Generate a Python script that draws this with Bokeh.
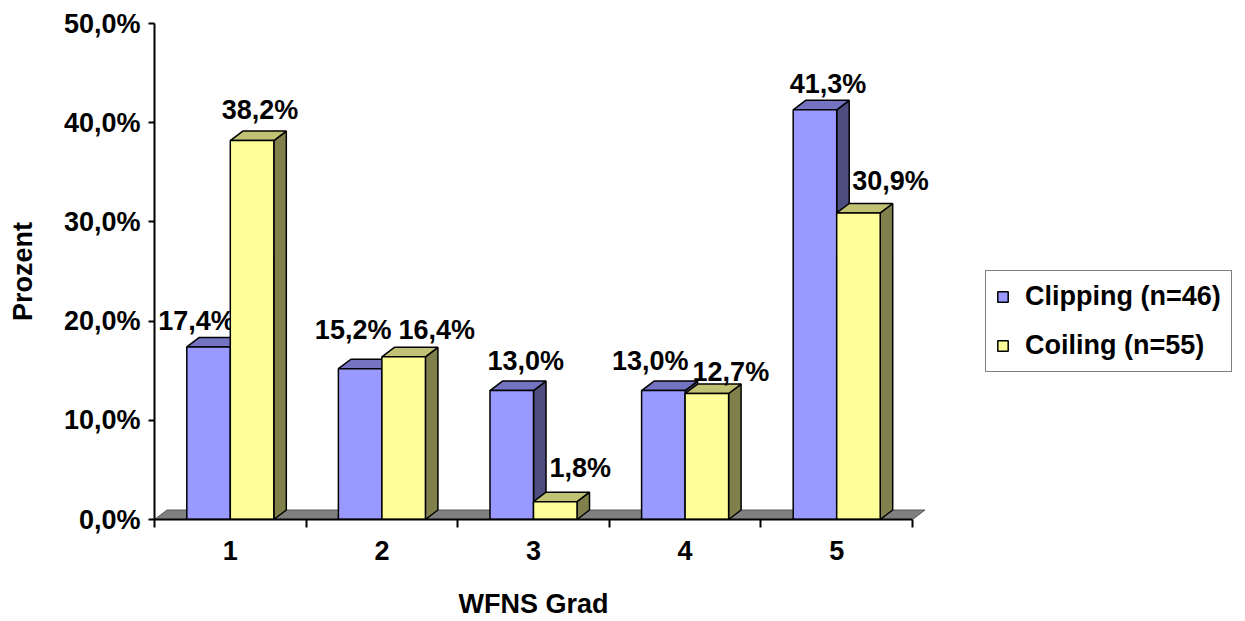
from bokeh.plotting import figure
from bokeh.models import Range1d, FixedTicker, Legend, LegendItem, ColumnDataSource, LinearAxis
from bokeh.core.properties import value
from bokeh.embed import file_html
from bokeh.resources import INLINE

# ---------------- data ----------------
categories = ["1", "2", "3", "4", "5"]
clipping = [17.4, 15.2, 13.0, 13.0, 41.3]
coiling = [38.2, 16.4, 1.8, 12.7, 30.9]
series_names = ["Clipping (n=46)", "Coiling (n=55)"]
y_ticks = [0, 10, 20, 30, 40, 50]
y_tick_labels = ["0,0%", "10,0%", "20,0%", "30,0%", "40,0%", "50,0%"]
x_title = "WFNS Grad"
y_title = "Prozent"

# ---------------- style / layout ----------------
W, H = 1245, 621
LEFT, TOP, BOTTOM, RIGHT = 154, 23, 101, 0
CAT_PX = 151.6
DEPTH_X_PX, DEPTH_Y_PX = 12.5, 9.5
BAR_W = 0.287
FONT = "Liberation Sans"
FS = "27px"
colors = {
    "clip": ("#9999FF", "#7373C2", "#4D4D80"),
    "coil": ("#FFFF99", "#C2C275", "#80804D"),
}
# label nudges (screen px) relative to bar front-top centre
label_dx_clip = [-12, -7, 14, -13, 13]
label_dy_clip = [26, 39, 30, 30, 26]
label_dx_coil = [8, 33, 25, 24, 32]
label_dy_coil = [31, 27, 34, 22, 32]

frame_w = W - LEFT - RIGHT
frame_h = H - TOP - BOTTOM
x_start = 0.5
x_end = x_start + frame_w / CAT_PX
y_start, y_end = 0, 50
px_per_pct = frame_h / (y_end - y_start)
ddx = DEPTH_X_PX / CAT_PX
ddy = DEPTH_Y_PX / px_per_pct

p = figure(width=W, height=H, output_backend="svg", toolbar_location=None,
           x_range=Range1d(x_start, x_end), y_range=Range1d(y_start, y_end),
           min_border_left=LEFT, min_border_top=TOP, min_border_bottom=BOTTOM,
           min_border_right=RIGHT)
p.outline_line_color = None
p.xgrid.visible = False
p.ygrid.visible = False
p.background_fill_color = "white"
p.border_fill_color = "white"

n = len(categories)
pos = [i + 1 for i in range(n)]

# floor
p.patches(xs=[[pos[0] - 0.5, pos[-1] + 0.5, pos[-1] + 0.5 + ddx, pos[0] - 0.5 + ddx]],
          ys=[[0, 0, ddy, ddy]], fill_color="#808080", line_color="#555555", line_width=1)


def draw_series(vals, lefts, cols, dxs, dys):
    front_c, top_c, side_c = cols
    rights = [l + BAR_W for l in lefts]
    side_src = ColumnDataSource(dict(
        xs=[[r, r + ddx, r + ddx, r] for r in rights],
        ys=[[0, ddy, v + ddy, v] for v in vals]))
    top_src = ColumnDataSource(dict(
        xs=[[l, r, r + ddx, l + ddx] for l, r in zip(lefts, rights)],
        ys=[[v, v, v + ddy, v + ddy] for v in vals]))
    front_src = ColumnDataSource(dict(left=lefts, right=rights, top=vals,
                                      bottom=[0] * len(vals)))
    p.patches("xs", "ys", source=side_src, fill_color=side_c, line_color="black", line_width=1.5)
    p.patches("xs", "ys", source=top_src, fill_color=top_c, line_color="black", line_width=1.5)
    fr = p.quad(left="left", right="right", top="top", bottom="bottom", source=front_src,
                fill_color=front_c, line_color="black", line_width=1.5)
    lab_src = ColumnDataSource(dict(
        x=[(l + r) / 2 for l, r in zip(lefts, rights)], y=vals,
        text=[("%.1f%%" % v).replace(".", ",") for v in vals],
        xo=dxs, yo=[-d for d in dys]))
    p.text(x="x", y="y", text="text", x_offset="xo", y_offset="yo", source=lab_src,
           text_font=value(FONT), text_font_size=FS, text_font_style="bold",
           text_color="black", text_align="center", text_baseline="middle")
    return fr


r_clip = draw_series(clipping, [x - BAR_W for x in pos], colors["clip"], label_dx_clip, label_dy_clip)
r_coil = draw_series(coiling, [x for x in pos], colors["coil"], label_dx_coil, label_dy_coil)

# axes
ya = p.yaxis[0]
ya.ticker = FixedTicker(ticks=y_ticks)
ya.major_label_overrides = {t: s for t, s in zip(y_ticks, y_tick_labels)}
ya.bounds = (y_start, y_end)
ya.axis_line_width = 2
ya.major_tick_line_width = 2
ya.major_tick_out = 6
ya.major_tick_in = 0
ya.minor_tick_line_color = None
ya.major_label_standoff = 8
ya.major_label_text_font = FONT
ya.major_label_text_font_size = FS
ya.major_label_text_font_style = "bold"
ya.major_label_text_color = "black"
ya.axis_label = y_title
ya.axis_label_text_font = FONT
ya.axis_label_text_font_size = FS
ya.axis_label_text_font_style = "bold"
ya.axis_label_text_color = "black"
ya.axis_label_standoff = 23

xa = p.xaxis[0]
xa.ticker = FixedTicker(ticks=pos, minor_ticks=[x - 0.5 for x in pos] + [pos[-1] + 0.5])
xa.major_label_overrides = {x: c for x, c in zip(pos, categories)}
xa.bounds = (pos[0] - 0.5, pos[-1] + 0.5)
xa.axis_line_width = 2
xa.major_tick_line_color = None
xa.major_tick_out = 0
xa.major_tick_in = 0
xa.minor_tick_line_color = "black"
xa.minor_tick_line_width = 2
xa.minor_tick_out = 8
xa.minor_tick_in = 0
xa.major_label_standoff = 13
xa.major_label_text_font = FONT
xa.major_label_text_font_size = FS
xa.major_label_text_font_style = "bold"
xa.major_label_text_color = "black"

# x-axis title, centred under the middle category (second, line-less axis)
mid = sum(pos) / n
xt = LinearAxis(ticker=FixedTicker(ticks=[mid]), major_label_overrides={mid: x_title},
                axis_line_color=None, major_tick_line_color=None, minor_tick_line_color=None,
                major_tick_out=0, major_tick_in=0, minor_tick_out=0, minor_tick_in=0,
                major_label_standoff=26, major_label_text_font=FONT,
                major_label_text_font_size=FS, major_label_text_font_style="bold",
                major_label_text_color="black")
p.add_layout(xt, "below")

legend = Legend(items=[LegendItem(label=series_names[0], renderers=[r_clip]),
                       LegendItem(label=series_names[1], renderers=[r_coil])],
                location=(831, 147), margin=0, padding=10, spacing=18,
                glyph_width=13, glyph_height=13, label_standoff=16,
                label_text_font=FONT, label_text_font_size=FS,
                label_text_font_style="bold", label_text_color="black",
                border_line_color="black", border_line_width=1.5,
                background_fill_color="white", background_fill_alpha=1)
p.add_layout(legend, "center")

open("out.html", "w").write(file_html(p, INLINE))
